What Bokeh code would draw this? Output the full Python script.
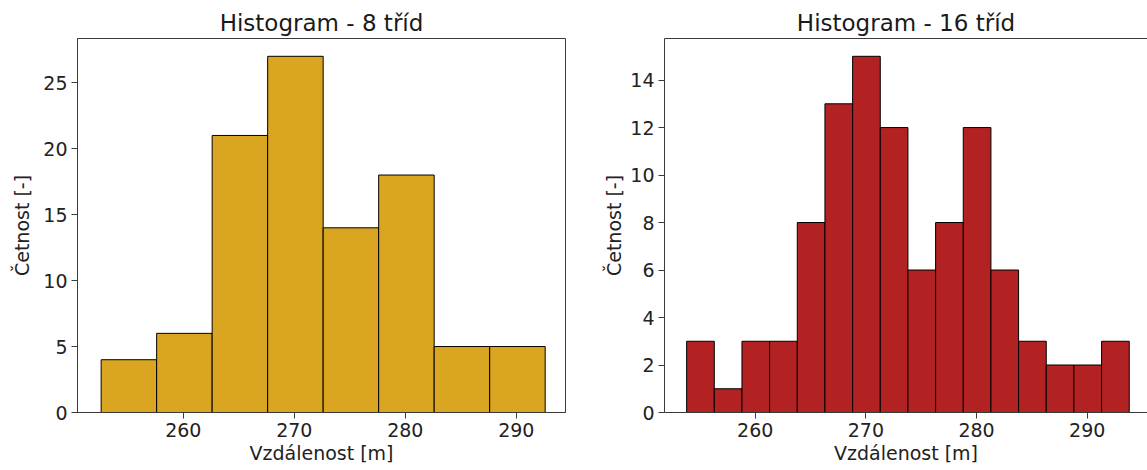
from bokeh.plotting import figure
from bokeh.layouts import row
from bokeh.models import FixedTicker, LinearAxis, Range1d
from bokeh.embed import file_html
from bokeh.resources import INLINE

# ---- data ----
edges8 = [252.6, 257.6, 262.6, 267.6, 272.6, 277.6, 282.6, 287.6, 292.6]
counts8 = [4, 6, 21, 27, 14, 18, 5, 5]

edges16 = [253.8, 256.3, 258.8, 261.3, 263.8, 266.3, 268.8, 271.3, 273.8,
           276.3, 278.8, 281.3, 283.8, 286.3, 288.8, 291.3, 293.8]
counts16 = [3, 1, 3, 3, 8, 13, 15, 12, 6, 8, 12, 6, 3, 2, 2, 3]

x_ticks = [260, 270, 280, 290]
y_ticks8 = [0, 5, 10, 15, 20, 25]
y_ticks16 = [0, 2, 4, 6, 8, 10, 12, 14]

title8 = "Histogram - 8 tříd"
title16 = "Histogram - 16 tříd"
xlabel = "Vzdálenost [m]"
ylabel = "Četnost [-]"

FONT = "DejaVu Sans"
SPINE = "#3a3a3a"


def make_fig(edges, counts, color, title, xr, yr, yticks, fw, bl, br,
             ylab_standoff, outline=True):
    p = figure(output_backend="svg", toolbar_location=None,
               frame_width=fw, frame_height=374,
               min_border_left=bl, min_border_right=br,
               min_border_top=38, min_border_bottom=58,
               x_range=Range1d(*xr), y_range=Range1d(*yr), title=title)
    p.quad(left=edges[:-1], right=edges[1:], bottom=0, top=counts,
           fill_color=color, line_color="black", line_width=1)
    p.grid.visible = False
    p.background_fill_color = "white"
    p.border_fill_color = "white"
    p.title.text_font = FONT
    p.title.text_font_size = "23px"
    p.title.text_font_style = "normal"
    p.title.text_color = "#1a1a1a"
    p.title.align = "center"
    p.title.standoff = 6
    for ax in (p.xaxis[0], p.yaxis[0]):
        ax.axis_line_color = SPINE
        ax.major_tick_line_color = SPINE
        ax.minor_tick_line_color = None
        ax.major_tick_out = 6
        ax.major_tick_in = 0
        ax.major_label_text_font = FONT
        ax.major_label_text_font_size = "19px"
        ax.major_label_text_color = "#222222"
        ax.axis_label_text_font = FONT
        ax.axis_label_text_font_size = "19px"
        ax.axis_label_text_font_style = "normal"
        ax.axis_label_text_color = "#222222"
    p.xaxis[0].ticker = FixedTicker(ticks=x_ticks)
    p.yaxis[0].ticker = FixedTicker(ticks=yticks)
    p.xaxis[0].axis_label = xlabel
    p.yaxis[0].axis_label = ylabel
    p.xaxis[0].major_label_standoff = 4
    p.xaxis[0].axis_label_standoff = 2
    p.yaxis[0].major_label_standoff = 4
    p.yaxis[0].axis_label_standoff = ylab_standoff
    if outline:
        p.outline_line_color = SPINE
        p.outline_line_width = 1
    else:
        p.outline_line_color = None
        top = LinearAxis(ticker=FixedTicker(ticks=[]))
        top.axis_line_color = SPINE
        top.major_tick_line_color = None
        top.minor_tick_line_color = None
        top.major_label_text_font_size = "0px"
        p.add_layout(top, "above")
    return p


p1 = make_fig(edges8, counts8, "#DAA520", title8, (250.47, 294.43), (0, 28.35),
              y_ticks8, 488, 77, 35, 7, outline=True)
p2 = make_fig(edges16, counts16, "#B22222", title16, (251.8, 295.45), (0, 15.75),
              y_ticks16, 483, 64, 0, 2, outline=False)

layout = row(p1, p2, spacing=0)
open("out.html", "w").write(file_html(layout, INLINE))
